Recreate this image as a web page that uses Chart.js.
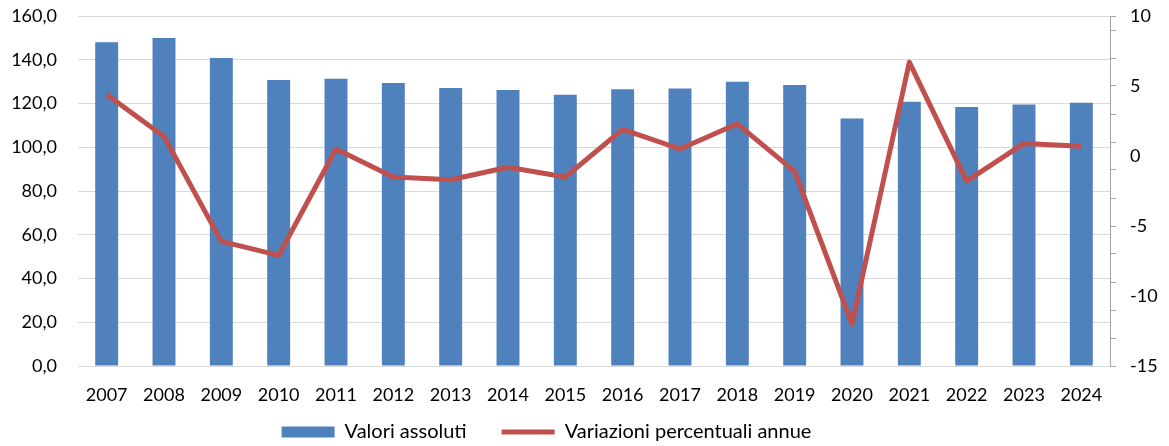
<!DOCTYPE html>
<html>
<head>
<meta charset="utf-8">
<script src="https://cdn.jsdelivr.net/npm/chart.js@4"></script>
<style>
  html, body { margin: 0; padding: 0; background: #fff; }
  #wrap { width: 1169px; height: 446px; }
</style>
</head>
<body>
<div id="wrap"><canvas id="chart"></canvas></div>
<script>
// Dati
const anni = ['2007', '2008', '2009', '2010', '2011', '2012', '2013', '2014', '2015',
  '2016', '2017', '2018', '2019', '2020', '2021', '2022', '2023', '2024'];
const valoriAssoluti = [148.0, 150.0, 140.8, 130.7, 131.3, 129.4, 127.1, 126.2, 124.0,
  126.5, 126.9, 130.0, 128.5, 113.2, 120.8, 118.4, 119.5, 120.4];
const variazioniPercentuali = [4.4, 1.4, -6.1, -7.1, 0.5, -1.5, -1.7, -0.8, -1.5,
  1.9, 0.5, 2.3, -1.1, -12.0, 6.7, -1.8, 0.9, 0.7];
const tickSinistra = [0, 160, 20];   // min, max, passo
const tickDestra = [-15, 10, 5];

const BLU = '#4f81bd';
const ROSSO = '#c0504d';
const GRIGLIA = '#d9d9d9';

Chart.defaults.font.family = 'Lato, "Open Sans", sans-serif';
Chart.defaults.font.size = 18;
Chart.defaults.color = '#000';

// sposta la legenda come nell'originale (il fondo resta, la legenda viene ritagliata sul suo box)
const spostaLegenda = {
  id: 'spostaLegenda',
  afterLayout(chart) {
    const l = chart.legend;
    if (!l) return;
    l.left -= 38; l.right -= 38;
    l.top -= 19;
  }
};

new Chart(document.getElementById('chart'), {
  data: {
    labels: anni,
    datasets: [
      {
        type: 'bar',
        label: 'Valori assoluti',
        data: valoriAssoluti,
        backgroundColor: BLU,
        yAxisID: 'y',
        order: 1,
        categoryPercentage: 1,
        barPercentage: 0.4
      },
      {
        type: 'line',
        label: 'Variazioni percentuali annue',
        data: variazioniPercentuali,
        borderColor: ROSSO,
        backgroundColor: ROSSO,
        borderWidth: 5,
        pointRadius: 0,
        tension: 0,
        borderJoinStyle: 'round',
        yAxisID: 'y1',
        order: 0
      }
    ]
  },
  plugins: [spostaLegenda],
  options: {
    responsive: true,
    maintainAspectRatio: false,
    animation: false,
    layout: { padding: { top: 16, left: 0, right: 0, bottom: 0 } },
    plugins: {
      tooltip: { enabled: false },
      legend: {
        position: 'bottom',
        maxHeight: 40,
        labels: {
          font: { size: 20 },
          usePointStyle: true,
          pointStyleWidth: 53,
          boxHeight: 11,
          padding: 35,
          sort: (a, b) => a.datasetIndex - b.datasetIndex,
          generateLabels(chart) {
            const items = Chart.defaults.plugins.legend.labels.generateLabels(chart);
            items.forEach(it => {
              if (it.datasetIndex === 0) {
                it.pointStyle = 'rect';
                it.lineWidth = 0;
                it.fillStyle = BLU;
              } else {
                it.pointStyle = 'line';
                it.lineWidth = 5;
                it.strokeStyle = ROSSO;
              }
            });
            return items;
          }
        }
      }
    },
    scales: {
      x: {
        grid: { display: false },
        border: { display: false },
        ticks: { padding: 10, maxRotation: 0, autoSkip: false },
        afterFit(scale) { scale.height = 40; }
      },
      y: {
        position: 'left',
        min: tickSinistra[0],
        max: tickSinistra[1],
        ticks: {
          stepSize: tickSinistra[2],
          padding: 21,
          callback: v => v.toFixed(1).replace('.', ',')
        },
        grid: { color: GRIGLIA, lineWidth: 1, drawTicks: false },
        border: { display: false },
        afterFit(scale) {
          scale.width = 78;
          scale.paddingTop = 0;
          scale.paddingBottom = 0;
        }
      },
      y1: {
        position: 'right',
        min: tickDestra[0],
        max: tickDestra[1],
        ticks: {
          stepSize: 1,
          autoSkip: false,
          padding: 14,
          callback: v => (v % tickDestra[2] === 0 ? String(v) : '')
        },
        grid: {
          drawOnChartArea: false,
          tickLength: 6,
          tickColor: ctx => {
            const v = ctx.tick ? ctx.tick.value : 0;
            return (Math.abs(v) % 2 === 1 || v === tickDestra[1]) ? '#a6a6a6' : 'rgba(0,0,0,0)';
          }
        },
        border: { display: true, color: '#a6a6a6' },
        afterFit(scale) {
          scale.width = 59;
          scale.paddingTop = 0;
          scale.paddingBottom = 0;
        }
      }
    }
  }
});
</script>
</body>
</html>
